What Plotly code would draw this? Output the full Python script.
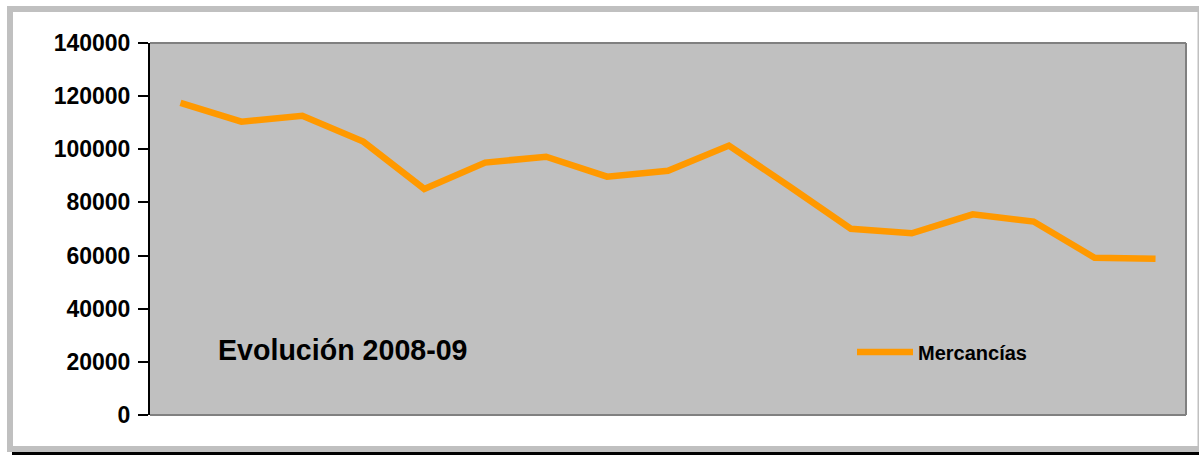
import plotly.graph_objects as go

# Data
months = [f"P{i}" for i in range(1, 18)]
mercancias = [117500, 110400, 112600, 102900, 85100, 95000, 97200, 89700, 91900,
              101400, 85900, 70100, 68400, 75500, 72800, 59200, 58800]
y_ticks = [0, 20000, 40000, 60000, 80000, 100000, 120000, 140000]
series_name = "Mercancías"
chart_label = "Evolución 2008-09"

W, H = 1199, 455
L, R, T, B = 150, 1186, 43, 415  # plot area in px


def px(x):
    return (x - L) / (R - L)


def py(y):
    return (B - y) / (B - T)


fig = go.Figure()
fig.add_trace(go.Scatter(
    x=months, y=mercancias, mode="lines", name=series_name,
    line=dict(color="#FF9900", width=6.5),
))

font_family = "Liberation Sans, Arial, sans-serif"

fig.update_layout(
    width=W, height=H,
    margin=dict(l=L, r=W - R, t=T, b=H - B, pad=0),
    paper_bgcolor="white",
    plot_bgcolor="#C0C0C0",
    font=dict(family=font_family, color="black"),
    showlegend=True,
    legend=dict(
        x=px(852), y=py(352), xanchor="left", yanchor="middle",
        bgcolor="rgba(0,0,0,0)", borderwidth=0,
        font=dict(family=font_family, size=20, color="black", weight="bold"),
        itemwidth=56,
    ),
    xaxis=dict(
        range=[-0.5, 16.5], showticklabels=False, ticks="", showgrid=False,
        zeroline=False, showline=False,
    ),
    yaxis=dict(
        range=[0, 140000], tickvals=y_ticks, ticktext=[str(v) for v in y_ticks],
        ticks="outside", ticklen=10, tickwidth=2, tickcolor="black",
        showline=True, linecolor="black", linewidth=2,
        showgrid=False, zeroline=False,
        tickfont=dict(family=font_family, size=23, color="black", weight="bold"),
        ticklabelstandoff=3,
    ),
    annotations=[dict(
        text=chart_label, xref="paper", yref="paper",
        x=px(216), y=py(350), xanchor="left", yanchor="middle",
        showarrow=False,
        font=dict(family=font_family, size=28.6, color="black", weight="bold"),
    )],
    shapes=[
        # plot frame (top, right, bottom)
        dict(type="line", xref="paper", yref="paper", x0=0, x1=1, y0=1, y1=1,
             line=dict(color="#808080", width=2), layer="above"),
        dict(type="line", xref="paper", yref="paper", x0=1, x1=1, y0=0, y1=1,
             line=dict(color="#808080", width=2), layer="above"),
        dict(type="line", xref="paper", yref="paper", x0=0, x1=1, y0=0, y1=0,
             line=dict(color="#808080", width=2), layer="above"),
        # outer border
        dict(type="rect", xref="paper", yref="paper",
             x0=px(10), x1=px(1200.5), y0=py(9), y1=py(449),
             line=dict(color="#C0C0C0", width=6), layer="below"),
        # black bottom line
        dict(type="line", xref="paper", yref="paper",
             x0=px(12), x1=px(1199), y0=py(453.5), y1=py(453.5),
             line=dict(color="black", width=3)),
    ],
)

fig.write_html(
    "out.html",
    config={"displayModeBar": False},
    post_script="document.body.style.margin='0';document.body.style.padding='0';",
)
